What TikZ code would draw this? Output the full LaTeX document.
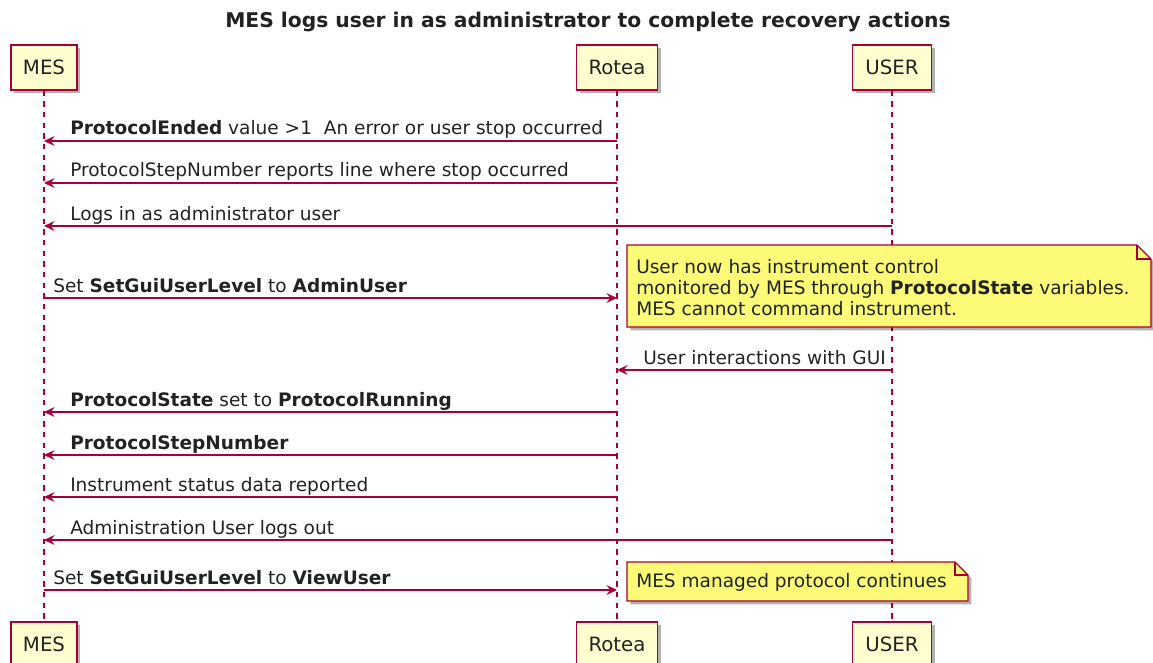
\documentclass[tikz,border=0pt]{standalone}
\usepackage{fontspec}
\setmainfont{DejaVu Sans}
\usetikzlibrary{arrows.meta,shadows}
\definecolor{pline}{HTML}{A80036}
\definecolor{pfill}{HTML}{FEFECE}
\definecolor{nfill}{HTML}{FBFB77}
\definecolor{ptext}{HTML}{222222}
\begin{document}
\begin{tikzpicture}[x=0.75pt,y=-0.75pt,
  part/.style={draw=pline, fill=pfill, line width=1.1pt, minimum height=33.75pt, inner sep=0pt,
    font=\fontsize{14.8}{17}\selectfont, text=ptext,
    drop shadow={shadow xshift=2.5pt,shadow yshift=-2.5pt,opacity=0.3,fill=black}},
  life/.style={draw=pline, line width=0.85pt, dash pattern=on 4pt off 4pt},
  msg/.style={draw=pline, line width=0.9pt, -{Stealth[length=8pt,width=7.5pt,inset=3pt]}},
  lbl/.style={anchor=base west, inner sep=0pt, font=\fontsize{13.9}{16}\selectfont, text=ptext},
  notebox/.style={draw=pline, fill=nfill, line width=0.9pt,
    drop shadow={shadow xshift=2.5pt,shadow yshift=-2.5pt,opacity=0.3,fill=black}},
  fold/.style={draw=pline, line width=0.9pt}
]
\useasboundingbox (0,0) rectangle (1153,663);
% title
\node[font=\bfseries\fontsize{15.2}{18}\selectfont, text=ptext] (title) at (588,22) {MES logs user in as administrator to complete recovery actions};
% participants
\node[part, minimum width=49.5pt] (mesT) at (44,67.5) {MES};
\node[part, minimum width=61pt] (rotT) at (617,67.5) {Rotea};
\node[part, minimum width=59pt] (usrT) at (892,67.5) {USER};
\node[part, minimum width=49.5pt] (mesB) at (44,644.5) {MES};
\node[part, minimum width=61pt] (rotB) at (617,644.5) {Rotea};
\node[part, minimum width=59pt] (usrB) at (892,644.5) {USER};
% lifelines
\draw[life] (mesT.south) -- (mesB.north);
\draw[life] (rotT.south) -- (rotB.north);
\draw[life] (usrT.south) -- (usrB.north);
% message anchor points
\foreach \n/\y in {1/141,2/183,3/226,4/298,6/370,7/412,8/455,9/497,10/540,11/590}{
  \coordinate (m\n) at (44,\y);
  \coordinate (r\n) at (617,\y);
  \coordinate (u\n) at (892,\y);
}
% messages
\draw[msg] (r1) -- (m1);
\node[lbl] (t1) at (70,135) {\textbf{ProtocolEnded} value >1\ \ An error or user stop occurred};
\draw[msg] (r2) -- (m2);
\node[lbl] (t2) at (70,177) {ProtocolStepNumber reports line where stop occurred};
\draw[msg] (u3) -- (m3);
\node[lbl] (t3) at (70,220) {Logs in as administrator user};
\draw[msg] (m4) -- (r4);
\node[lbl] (t4) at (53,292) {Set \textbf{SetGuiUserLevel} to \textbf{AdminUser}};
% note 1
\draw[notebox] (627,245) -- (1137,245) -- (1151,259) -- (1151,327) -- (627,327) -- cycle;
\draw[fold] (1137,245) -- (1137,259) -- (1151,259);
\node[lbl] (n1a) at (636,273) {User now has instrument control};
\node[lbl] (n1b) at (636,294) {monitored by MES through \textbf{ProtocolState} variables.};
\node[lbl] (n1c) at (636,315) {MES cannot command instrument.};
\draw[msg] (u6) -- (r6);
\node[lbl] (t6) at (643,364) {User interactions with GUI};
\draw[msg] (r7) -- (m7);
\node[lbl] (t7) at (70,406) {\textbf{ProtocolState} set to \textbf{ProtocolRunning}};
\draw[msg] (r8) -- (m8);
\node[lbl] (t8) at (70,449) {\textbf{ProtocolStepNumber}};
\draw[msg] (r9) -- (m9);
\node[lbl] (t9) at (70,491) {Instrument status data reported};
\draw[msg] (u10) -- (m10);
\node[lbl] (t10) at (70,534) {Administration User logs out};
\draw[msg] (m11) -- (r11);
\node[lbl] (t11) at (53,584) {Set \textbf{SetGuiUserLevel} to \textbf{ViewUser}};
% note 2
\draw[notebox] (627,562) -- (955,562) -- (968,575) -- (968,601) -- (627,601) -- cycle;
\draw[fold] (955,562) -- (955,575) -- (968,575);
\node[lbl] (n2) at (636,587) {MES managed protocol continues};
\end{tikzpicture}
\end{document}
